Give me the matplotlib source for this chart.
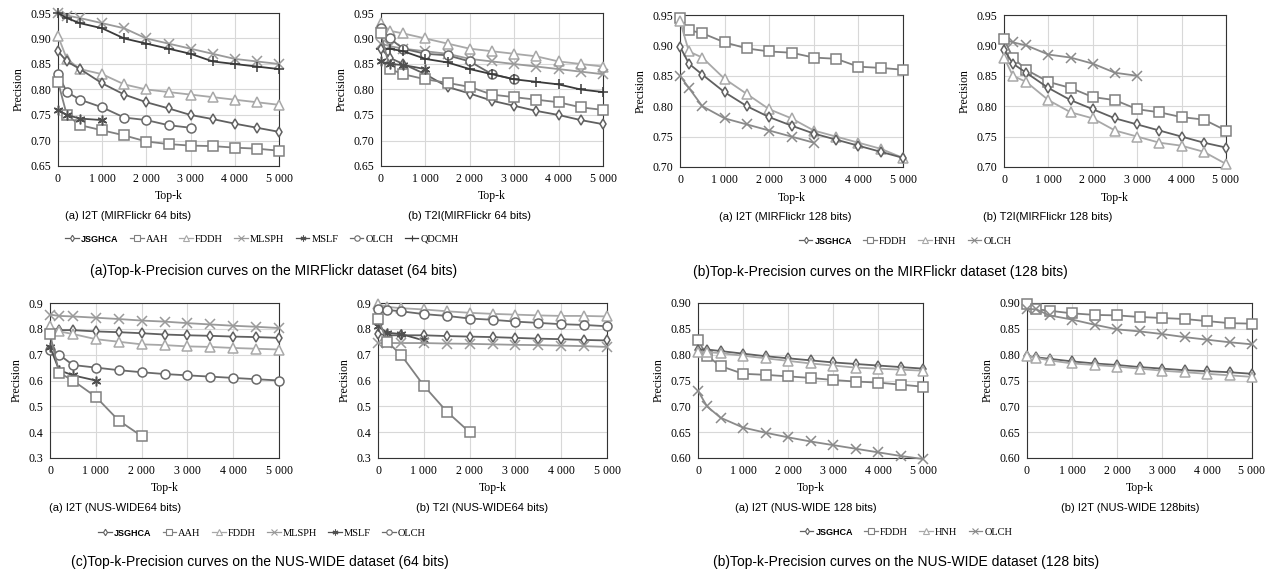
import matplotlib
matplotlib.use("Agg")
import matplotlib.pyplot as plt
from matplotlib.lines import Line2D
from matplotlib.ticker import FuncFormatter, MultipleLocator

# top-k values on the x axis
topk = [0, 200, 500, 1000, 1500, 2000, 2500, 3000, 3500, 4000, 4500, 5000]

# (a) MIRFlickr 64 bits, I2T
mir64_i2t_jsghca = [0.875, 0.855, 0.84, 0.812, 0.79, 0.775, 0.763, 0.75, 0.742, 0.733, 0.725, 0.717]
mir64_i2t_aah = [0.815, 0.75, 0.73, 0.72, 0.71, 0.698, 0.693, 0.69, 0.689, 0.686, 0.684, 0.68]
mir64_i2t_fddh = [0.905, 0.86, 0.84, 0.83, 0.81, 0.80, 0.795, 0.79, 0.785, 0.78, 0.775, 0.77]
mir64_i2t_mlsph = [0.95, 0.945, 0.94, 0.93, 0.92, 0.90, 0.89, 0.88, 0.87, 0.86, 0.855, 0.85]
mir64_i2t_mslf = [0.76, 0.75, 0.743, 0.74]
mir64_i2t_olch = [0.83, 0.795, 0.78, 0.765, 0.745, 0.74, 0.73, 0.725]
mir64_i2t_qdcmh = [0.95, 0.94, 0.93, 0.92, 0.90, 0.89, 0.88, 0.87, 0.855, 0.85, 0.845, 0.84]

# (a) MIRFlickr 64 bits, T2I
mir64_t2i_jsghca = [0.88, 0.862, 0.85, 0.83, 0.805, 0.792, 0.778, 0.768, 0.758, 0.75, 0.74, 0.732]
mir64_t2i_aah = [0.91, 0.84, 0.83, 0.82, 0.813, 0.805, 0.79, 0.785, 0.78, 0.775, 0.765, 0.76]
mir64_t2i_fddh = [0.93, 0.915, 0.91, 0.90, 0.89, 0.88, 0.875, 0.87, 0.865, 0.855, 0.85, 0.845]
mir64_t2i_mlsph = [0.89, 0.885, 0.88, 0.875, 0.87, 0.86, 0.855, 0.85, 0.845, 0.84, 0.835, 0.83]
mir64_t2i_mslf = [0.855, 0.85, 0.848, 0.84]
mir64_t2i_olch = [0.92, 0.90, 0.88, 0.87, 0.867, 0.855, 0.83, 0.82]
mir64_t2i_qdcmh = [0.88, 0.88, 0.875, 0.86, 0.853, 0.84, 0.83, 0.82, 0.815, 0.81, 0.80, 0.795]

# (b) MIRFlickr 128 bits
mir128_i2t_jsghca = [0.898, 0.87, 0.852, 0.823, 0.80, 0.782, 0.768, 0.755, 0.745, 0.735, 0.725, 0.715]
mir128_i2t_fddh = [0.945, 0.925, 0.92, 0.905, 0.895, 0.89, 0.888, 0.88, 0.878, 0.865, 0.863, 0.86]
mir128_i2t_hnh = [0.94, 0.89, 0.88, 0.845, 0.82, 0.795, 0.78, 0.76, 0.75, 0.74, 0.73, 0.715]
mir128_i2t_olch = [0.85, 0.83, 0.80, 0.78, 0.77, 0.76, 0.75, 0.74]

mir128_t2i_jsghca = [0.893, 0.87, 0.855, 0.83, 0.81, 0.795, 0.78, 0.77, 0.76, 0.75, 0.74, 0.732]
mir128_t2i_fddh = [0.91, 0.88, 0.86, 0.84, 0.83, 0.815, 0.81, 0.795, 0.79, 0.782, 0.778, 0.76]
mir128_t2i_hnh = [0.88, 0.85, 0.84, 0.81, 0.79, 0.78, 0.76, 0.75, 0.74, 0.735, 0.725, 0.705]
mir128_t2i_olch = [0.91, 0.905, 0.90, 0.885, 0.88, 0.87, 0.855, 0.85]

# (c) NUS-WIDE 64 bits
nus64_i2t_jsghca = [0.80, 0.795, 0.795, 0.79, 0.787, 0.783, 0.778, 0.775, 0.773, 0.77, 0.768, 0.765]
nus64_i2t_aah = [0.78, 0.63, 0.60, 0.537, 0.445, 0.385]
nus64_i2t_fddh = [0.81, 0.79, 0.78, 0.76, 0.75, 0.74, 0.737, 0.732, 0.73, 0.726, 0.723, 0.72]
nus64_i2t_mlsph = [0.855, 0.85, 0.848, 0.843, 0.838, 0.832, 0.828, 0.822, 0.817, 0.812, 0.808, 0.803]
nus64_i2t_mslf = [0.73, 0.64, 0.62, 0.60]
nus64_i2t_olch = [0.72, 0.70, 0.66, 0.65, 0.64, 0.632, 0.625, 0.62, 0.615, 0.61, 0.605, 0.60]

nus64_t2i_jsghca = [0.78, 0.775, 0.775, 0.775, 0.772, 0.77, 0.768, 0.765, 0.762, 0.76, 0.757, 0.755]
nus64_t2i_aah = [0.84, 0.75, 0.70, 0.58, 0.48, 0.40]
nus64_t2i_fddh = [0.895, 0.885, 0.88, 0.875, 0.868, 0.862, 0.858, 0.855, 0.852, 0.85, 0.85, 0.848]
nus64_t2i_mlsph = [0.745, 0.745, 0.745, 0.745, 0.743, 0.742, 0.74, 0.738, 0.737, 0.735, 0.733, 0.73]
nus64_t2i_mslf = [0.81, 0.785, 0.78, 0.755]
nus64_t2i_olch = [0.875, 0.873, 0.868, 0.857, 0.85, 0.84, 0.835, 0.828, 0.823, 0.818, 0.815, 0.81]

# (d) NUS-WIDE 128 bits
nus128_i2t_jsghca = [0.81, 0.81, 0.807, 0.802, 0.797, 0.793, 0.789, 0.785, 0.782, 0.779, 0.776, 0.773]
nus128_i2t_fddh = [0.828, 0.798, 0.778, 0.763, 0.761, 0.758, 0.755, 0.751, 0.748, 0.746, 0.742, 0.738]
nus128_i2t_hnh = [0.805, 0.805, 0.803, 0.798, 0.793, 0.788, 0.783, 0.779, 0.775, 0.773, 0.771, 0.769]
nus128_i2t_olch = [0.73, 0.70, 0.678, 0.659, 0.649, 0.64, 0.632, 0.625, 0.618, 0.611, 0.604, 0.598]

nus128_t2i_jsghca = [0.797, 0.795, 0.792, 0.787, 0.783, 0.78, 0.776, 0.773, 0.77, 0.768, 0.766, 0.763]
nus128_t2i_fddh = [0.898, 0.888, 0.885, 0.88, 0.877, 0.876, 0.873, 0.871, 0.869, 0.865, 0.861, 0.86]
nus128_t2i_hnh = [0.797, 0.794, 0.789, 0.783, 0.78, 0.777, 0.773, 0.769, 0.766, 0.763, 0.76, 0.757]
nus128_t2i_olch = [0.888, 0.888, 0.876, 0.868, 0.858, 0.849, 0.845, 0.84, 0.834, 0.829, 0.824, 0.82]

# method styles (marker, colour, size)
style64 = {
    'JSGHCA': ('d', '#606060', 5.5),
    'AAH': ('s', '#808080', 6.5),
    'FDDH': ('^', '#a8a8a8', 6.5),
    'MLSPH': ('x', '#9a9a9a', 6.5),
    'MSLF': ((6, 2, 0), '#505050', 7),
    'OLCH': ('o', '#6a6a6a', 6.5),
    'QDCMH': ('+', '#3a3a3a', 7),
}
style128 = {
    'JSGHCA': ('d', '#606060', 5.5),
    'FDDH': ('s', '#808080', 6.5),
    'HNH': ('^', '#a8a8a8', 6.5),
    'OLCH': ('x', '#8a8a8a', 6.5),
}

serif = 'Liberation Serif'
sans = 'Liberation Sans'

W, H = 1279, 573
fig = plt.figure(figsize=(W / 100, H / 100), dpi=100)


def add_axes_px(left, top, right, bottom):
    return fig.add_axes([left / W, 1 - bottom / H, (right - left) / W, (bottom - top) / H])


def draw_panel(box, series, styles, ylim, ystep, yfmt):
    ax = add_axes_px(*box)
    for name, vals in series:
        m, c, ms = styles[name]
        ax.plot(topk[:len(vals)], vals, color=c, lw=1.3, marker=m, ms=ms,
                mfc='white', mec=c, mew=1.1, clip_on=False, zorder=3)
    ax.set_xlim(0, 5000)
    ax.set_ylim(*ylim)
    ax.xaxis.set_major_locator(MultipleLocator(1000))
    ax.yaxis.set_major_locator(MultipleLocator(ystep))
    ax.xaxis.set_major_formatter(FuncFormatter(lambda v, p: f"{int(v):,}".replace(",", " ")))
    ax.yaxis.set_major_formatter(FuncFormatter(lambda v, p: yfmt.format(v)))
    ax.grid(True, color='#d8d8d8', lw=0.8)
    ax.set_axisbelow(True)
    ax.tick_params(length=0, labelsize=8.5, pad=5)
    for lab in ax.get_xticklabels() + ax.get_yticklabels():
        lab.set_fontfamily(serif)
    for s in ax.spines.values():
        s.set_color('#333333')
        s.set_linewidth(0.8)
    ax.set_xlabel('Top-k', fontfamily=serif, fontsize=8.5, labelpad=4)
    ax.set_ylabel('Precision', fontfamily=serif, fontsize=8.5, labelpad=4)
    return ax


# MIRFlickr 64
draw_panel((58, 13, 279, 166),
           [('MLSPH', mir64_i2t_mlsph), ('QDCMH', mir64_i2t_qdcmh), ('FDDH', mir64_i2t_fddh),
            ('JSGHCA', mir64_i2t_jsghca), ('OLCH', mir64_i2t_olch), ('AAH', mir64_i2t_aah),
            ('MSLF', mir64_i2t_mslf)],
           style64, (0.65, 0.95), 0.05, '{:.2f}')
draw_panel((381, 13, 603, 166),
           [('FDDH', mir64_t2i_fddh), ('MLSPH', mir64_t2i_mlsph), ('OLCH', mir64_t2i_olch),
            ('QDCMH', mir64_t2i_qdcmh), ('JSGHCA', mir64_t2i_jsghca), ('AAH', mir64_t2i_aah),
            ('MSLF', mir64_t2i_mslf)],
           style64, (0.65, 0.95), 0.05, '{:.2f}')

# MIRFlickr 128
draw_panel((680, 15, 903, 167),
           [('FDDH', mir128_i2t_fddh), ('HNH', mir128_i2t_hnh), ('JSGHCA', mir128_i2t_jsghca),
            ('OLCH', mir128_i2t_olch)],
           style128, (0.70, 0.95), 0.05, '{:.2f}')
draw_panel((1004, 15, 1226, 167),
           [('OLCH', mir128_t2i_olch), ('FDDH', mir128_t2i_fddh), ('JSGHCA', mir128_t2i_jsghca),
            ('HNH', mir128_t2i_hnh)],
           style128, (0.70, 0.95), 0.05, '{:.2f}')

# NUS-WIDE 64
draw_panel((50, 303, 279, 458),
           [('MLSPH', nus64_i2t_mlsph), ('JSGHCA', nus64_i2t_jsghca), ('FDDH', nus64_i2t_fddh),
            ('OLCH', nus64_i2t_olch), ('MSLF', nus64_i2t_mslf), ('AAH', nus64_i2t_aah)],
           style64, (0.3, 0.9), 0.1, '{:.1f}')
draw_panel((378, 303, 607, 458),
           [('FDDH', nus64_t2i_fddh), ('OLCH', nus64_t2i_olch), ('JSGHCA', nus64_t2i_jsghca),
            ('MSLF', nus64_t2i_mslf), ('MLSPH', nus64_t2i_mlsph), ('AAH', nus64_t2i_aah)],
           style64, (0.3, 0.9), 0.1, '{:.1f}')

# NUS-WIDE 128
draw_panel((698, 303, 923, 458),
           [('FDDH', nus128_i2t_fddh), ('JSGHCA', nus128_i2t_jsghca), ('HNH', nus128_i2t_hnh),
            ('OLCH', nus128_i2t_olch)],
           style128, (0.60, 0.90), 0.05, '{:.2f}')
draw_panel((1027, 303, 1252, 458),
           [('FDDH', nus128_t2i_fddh), ('OLCH', nus128_t2i_olch), ('JSGHCA', nus128_t2i_jsghca),
            ('HNH', nus128_t2i_hnh)],
           style128, (0.60, 0.90), 0.05, '{:.2f}')


def ftext(x, y, s, size, family=sans, **kw):
    fig.text(x / W, 1 - y / H, s, ha='center', va='center', fontsize=size, fontfamily=family, **kw)


def add_legend(x, y, names, styles):
    handles = []
    for n in names:
        m, c, ms = styles[n]
        handles.append(Line2D([], [], color=c, lw=0.9, marker=m, ms=ms * 0.6, mfc='white', mec=c, mew=0.8))
    leg = fig.legend(handles, names, loc='center', bbox_to_anchor=(x / W, 1 - y / H), ncol=len(names),
                     frameon=False, handlelength=1.3, handletextpad=0.2, columnspacing=1.1,
                     borderpad=0, prop={'family': serif, 'size': 7.5})
    leg.get_texts()[0].set_fontfamily(sans)
    leg.get_texts()[0].set_fontweight('bold')
    leg.get_texts()[0].set_fontsize(6.5)


names64 = ['JSGHCA', 'AAH', 'FDDH', 'MLSPH', 'MSLF', 'OLCH', 'QDCMH']
names64b = ['JSGHCA', 'AAH', 'FDDH', 'MLSPH', 'MSLF', 'OLCH']
names128 = ['JSGHCA', 'FDDH', 'HNH', 'OLCH']

ftext(128, 216, '(a) I2T (MIRFlickr 64 bits)', 8)
ftext(470, 216, '(b) T2I(MIRFlickr 64 bits)', 8)
add_legend(262, 239, names64, style64)
ftext(274, 271, '(a)Top-k-Precision curves on the MIRFlickr dataset (64 bits)', 10)

ftext(785, 217, '(a) I2T (MIRFlickr 128 bits)', 8)
ftext(1048, 217, '(b) T2I(MIRFlickr 128 bits)', 8)
add_legend(905, 241, names128, style128)
ftext(880, 272, '(b)Top-k-Precision curves on the MIRFlickr dataset (128 bits)', 10)

ftext(115, 508, '(a) I2T (NUS-WIDE64 bits)', 8)
ftext(482, 508, '(b) T2I (NUS-WIDE64 bits)', 8)
add_legend(262, 533, names64b, style64)
ftext(260, 562, '(c)Top-k-Precision curves on the NUS-WIDE dataset (64 bits)', 10)

ftext(806, 508, '(a) I2T (NUS-WIDE 128 bits)', 8)
ftext(1130, 508, '(b) I2T (NUS-WIDE 128bits)', 8)
add_legend(906, 532, names128, style128)
ftext(906, 562, '(b)Top-k-Precision curves on the NUS-WIDE dataset (128 bits)', 10)

fig.savefig('out.png', dpi=100, facecolor='white')
